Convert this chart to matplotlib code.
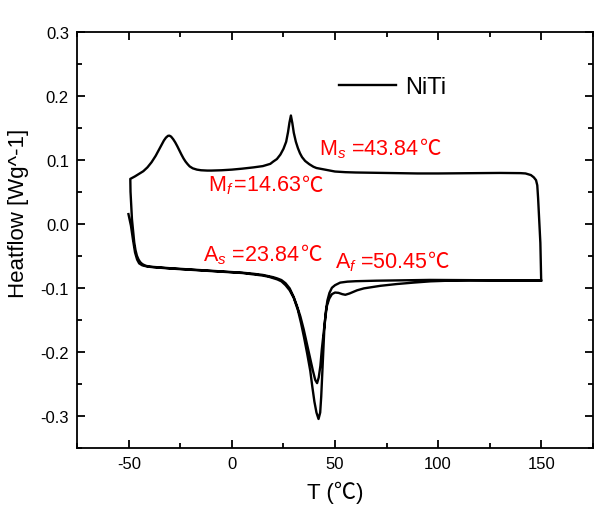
import matplotlib
matplotlib.use("Agg")
import matplotlib.pyplot as plt
from matplotlib.ticker import MultipleLocator, FormatStrFormatter

# heating run 1 (deep endothermic dip)
heat1_T = [-50.2, -49.0, -48.0, -47.0, -46.0, -45.0, -43.5, -41, -38, -30, -20, -10, 0, 5, 10, 15, 18, 20,
           22, 24, 26, 28, 30, 32, 33.5, 35, 36.5, 38, 39, 40, 41, 42, 42.8, 43.3, 43.8, 44.3, 44.8, 45.5,
           46.3, 47.3, 48.5, 50, 52.5, 56, 60, 70, 80, 96, 110, 120, 135, 145, 149.5, 150]
heat1_H = [0.015, -0.003, -0.025, -0.045, -0.056, -0.062, -0.065, -0.067, -0.068, -0.070, -0.072, -0.074,
           -0.076, -0.077, -0.079, -0.081, -0.083, -0.085, -0.087, -0.090, -0.096, -0.104, -0.116, -0.135,
           -0.155, -0.178, -0.203, -0.230, -0.255, -0.278, -0.295, -0.305, -0.295, -0.270, -0.235, -0.200,
           -0.165, -0.138, -0.120, -0.108, -0.100, -0.096, -0.092, -0.0905, -0.0898, -0.089, -0.0885,
           -0.0878, -0.088, -0.088, -0.0885, -0.0888, -0.089, -0.089]

# cooling run (from 150 back down to -50)
cool_T = [149.6, 149.0, 148.5, 148.1, 147.5, 146.4, 145, 144, 142.4, 140, 130, 120, 110, 100, 90, 80, 70,
          60, 55, 50, 47.5, 44, 41, 39.5, 37.5, 35.5, 34, 33, 32, 31, 30, 29.3, 28.6, 27.9, 27.2, 26.3,
          25, 23.5, 21.8, 20, 18.6, 15, 10.5, 5, 0, -5, -10, -12, -15, -17, -19, -20.5, -21.5, -22.5,
          -23.5, -24.5, -25.5, -26.5, -27.5, -28.5, -29.5, -30.3, -31, -32, -33, -34, -35.5, -37, -39,
          -41, -43, -45, -47, -49.3]
cool_H = [-0.03, 0.010, 0.040, 0.060, 0.068, 0.0725, 0.076, 0.077, 0.0785, 0.079, 0.0793, 0.079, 0.0788,
          0.0785, 0.0785, 0.079, 0.0795, 0.080, 0.0805, 0.0815, 0.083, 0.085, 0.087, 0.089, 0.093, 0.098,
          0.104, 0.110, 0.118, 0.128, 0.142, 0.157, 0.169, 0.158, 0.143, 0.128, 0.117, 0.108, 0.101,
          0.097, 0.0935, 0.090, 0.088, 0.086, 0.0845, 0.0835, 0.083, 0.083, 0.0835, 0.0845, 0.0865,
          0.0895, 0.093, 0.097, 0.102, 0.108, 0.1145, 0.121, 0.127, 0.132, 0.136, 0.1375, 0.1373, 0.1345,
          0.130, 0.124, 0.115, 0.106, 0.096, 0.088, 0.082, 0.078, 0.074, 0.070]

# heating run 2 (shallow dip with the small shoulder near 55)
heat2_T = [-49.2, -48.8, -48.5, -47.9, -47.4, -46.8, -46.1, -45.3, -44.5, -43.5, -42, -40, -30, -20, -10,
           0, 5, 10, 15, 18, 20, 22, 24, 26, 28, 29.9, 31.5, 33.2, 34.8, 36.4, 38.0, 39.3, 40.4, 41.3,
           42.1, 42.9, 43.6, 44.5, 45.3, 46.1, 47.2, 48.5, 50, 51.7, 53.5, 55, 57, 60.7, 64, 67.1, 72,
           80, 88, 96.3, 105, 115, 130, 150]
heat2_H = [0.050, 0.025, 0.007, -0.012, -0.029, -0.041, -0.050, -0.056, -0.060, -0.063, -0.0655, -0.067,
           -0.0695, -0.0715, -0.0735, -0.0755, -0.0765, -0.078, -0.080, -0.082, -0.0835, -0.0855, -0.088,
           -0.093, -0.101, -0.114, -0.128, -0.145, -0.165, -0.188, -0.211, -0.230, -0.244, -0.249, -0.240,
           -0.222, -0.196, -0.170, -0.146, -0.128, -0.117, -0.110, -0.1075, -0.108, -0.110, -0.111,
           -0.109, -0.104, -0.101, -0.0994, -0.097, -0.0942, -0.092, -0.090, -0.089, -0.0885, -0.0885,
           -0.089]

notes = [r'M$_{s}$ =43.84', r'M$_{f}\,$=14.63', r'A$_{s}$ =23.84', r'A$_{f}$ =50.45']
notes_xy = [(42.4, 0.109), (-11.4, 0.0516), (-13.8, -0.0567), (49.8, -0.068)]


def main():
    plt.rcParams['font.family'] = ['Liberation Sans', 'Noto Sans CJK SC', 'DejaVu Sans']
    plt.rcParams['mathtext.fontset'] = 'custom'
    plt.rcParams['mathtext.rm'] = 'Liberation Sans'
    plt.rcParams['mathtext.it'] = 'Liberation Sans:italic'
    plt.rcParams['axes.unicode_minus'] = False

    fig = plt.figure(figsize=(6.06, 5.10), dpi=100)
    ax = fig.add_axes([0.1276, 0.120, 0.8505, 0.816])

    T = heat1_T + cool_T + heat2_T
    H = heat1_H + cool_H + heat2_H
    ax.plot(T, H, color='black', lw=1.7, label='NiTi')

    ax.set_xlim(-75, 175)
    ax.set_ylim(-0.35, 0.3)
    ax.xaxis.set_major_locator(MultipleLocator(50))
    ax.xaxis.set_minor_locator(MultipleLocator(25))
    ax.yaxis.set_major_locator(MultipleLocator(0.1))
    ax.yaxis.set_minor_locator(MultipleLocator(0.05))
    ax.yaxis.set_major_formatter(FormatStrFormatter('%.1f'))
    ax.tick_params(which='both', direction='in', top=True, right=True, width=1.3, labelsize=12)
    ax.tick_params(which='major', length=6, pad=6)
    ax.tick_params(which='minor', length=3.5)
    for sp in ax.spines.values():
        sp.set_linewidth(1.3)

    ax.set_xlabel('T (℃)', fontsize=16, labelpad=7)
    ax.set_ylabel('Heatflow [Wg^-1]', fontsize=16, labelpad=8)
    ax.yaxis.label.set_y(0.565)

    ax.legend(loc='center left', bbox_to_anchor=(0.508, 0.867), frameon=False, fontsize=17,
              handlelength=2.4, handletextpad=0.38, borderpad=0, borderaxespad=0)

    # annotations: the math part first, then the degree sign right after it
    fig.canvas.draw()
    r = fig.canvas.get_renderer()
    for s, (x, y) in zip(notes, notes_xy):
        t = ax.text(x, y, s, color='#ff0000', fontsize=15.5, ha='left', va='baseline')
        x0 = ax.transData.transform((x, y))[0]
        dx = (t.get_window_extent(r).x1 - x0) * 72 / fig.dpi
        ax.annotate('℃', xy=(x, y), xytext=(dx + 0.5, 0), textcoords='offset points',
                    color='#ff0000', fontsize=15.5, ha='left', va='baseline',
                    family='Noto Sans CJK SC', fontweight='light')

    fig.savefig('out.png', dpi=100)


if __name__ == '__main__':
    main()
